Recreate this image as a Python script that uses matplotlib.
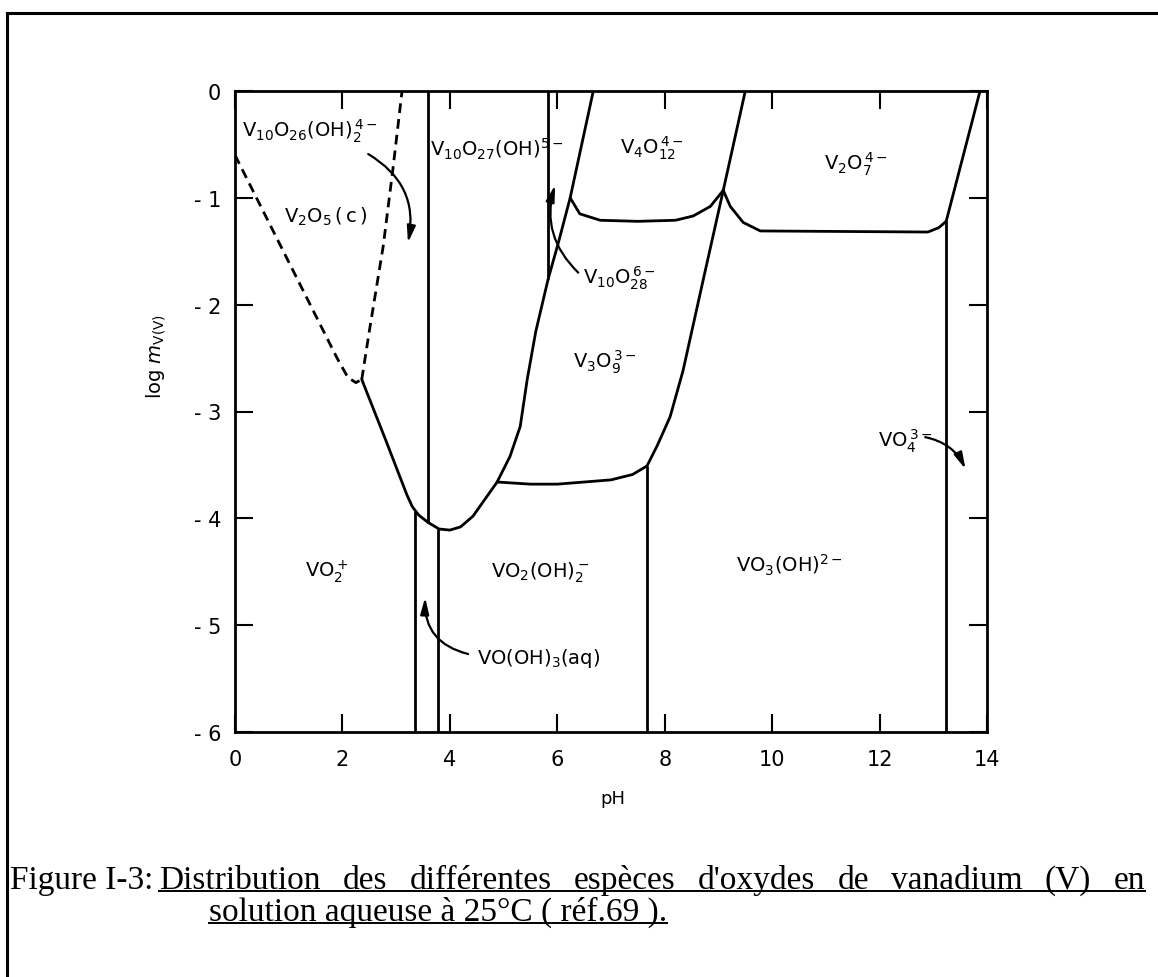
import matplotlib.pyplot as plt
from matplotlib.lines import Line2D

plt.rcParams["font.family"] = "DejaVu Sans"
plt.rcParams["mathtext.default"] = "regular"

# phase boundaries (pH, log m)
low_ph = [2.36, 2.8, 3.2, 3.3, 3.42, 3.6, 3.8, 4.0, 4.2, 4.43, 4.88, 5.12, 5.31, 5.44,
          5.6, 5.83, 6.02, 6.24, 6.67]
low_lm = [-2.70, -3.26, -3.78, -3.89, -3.97, -4.04, -4.10, -4.11, -4.08, -3.98, -3.66,
          -3.42, -3.14, -2.70, -2.25, -1.76, -1.42, -1.0, 0.0]

v3_low_ph = [4.88, 5.5, 6.0, 7.0, 7.4, 7.67]
v3_low_lm = [-3.66, -3.68, -3.68, -3.64, -3.59, -3.51]

v3_right_ph = [7.67, 7.86, 8.1, 8.34, 8.72, 9.09, 9.5]
v3_right_lm = [-3.51, -3.32, -3.05, -2.62, -1.76, -0.93, 0.0]

v4_low_ph = [6.24, 6.42, 6.8, 7.5, 8.2, 8.53, 8.85, 9.09]
v4_low_lm = [-1.0, -1.15, -1.21, -1.22, -1.21, -1.17, -1.08, -0.93]

v2_low_ph = [9.09, 9.22, 9.46, 9.78, 12.9, 13.1, 13.24]
v2_low_lm = [-0.93, -1.08, -1.23, -1.31, -1.32, -1.28, -1.22]

v2_right_ph = [13.24, 13.87]
v2_right_lm = [-1.22, 0.0]

# vertical boundaries: pH, upper end, lower end
vert_ph = [3.6, 5.83, 3.35, 3.78, 7.67, 13.24]
vert_top = [0.0, 0.0, -3.93, -4.10, -3.51, -1.22]
vert_bot = [-4.04, -1.76, -6.0, -6.0, -6.0, -6.0]

# V2O5(c) solubility (dashed)
dash_left_ph = [0.0, 1.9, 2.1, 2.25, 2.36]
dash_left_lm = [-0.6, -2.5, -2.68, -2.73, -2.70]
dash_right_ph = [2.36, 2.5, 2.76, 2.94, 3.11]
dash_right_lm = [-2.70, -2.25, -1.45, -0.73, 0.0]

# species labels: text, pH, log m, alignment
labels = [r"$V_{10}O_{26}(OH)_2^{\,4-}$", r"$V_2O_5\,(\,c\,)$",
          r"$V_{10}O_{27}(OH)^{5-}$", r"$V_4O_{12}^{\,4-}$", r"$V_2O_7^{\,4-}$",
          r"$V_{10}O_{28}^{\,6-}$", r"$V_3O_9^{\,3-}$", r"$VO_2^+$",
          r"$VO_2(OH)_2^-$", r"$VO_3(OH)^{2-}$", r"$VO(OH)_3(aq)$",
          r"$VO_4^{\,3-}$"]
label_ph = [0.13, 1.68, 3.63, 7.77, 11.56, 6.48, 6.89, 1.71, 5.68, 10.33, 4.51, 12.48]
label_lm = [-0.37, -1.17, -0.54, -0.53, -0.68, -1.74, -2.53, -4.49, -4.50, -4.43, -5.30, -3.27]
label_ha = ["left", "center", "left", "center", "center", "left", "center",
            "center", "center", "center", "left", "center"]

# pointer arrows: tail -> head, curvature
arrow_from = [(2.48, -0.59), (6.39, -1.70), (4.34, -5.27), (12.85, -3.24)]
arrow_to = [(3.22, -1.42), (5.96, -0.88), (3.54, -4.74), (13.6, -3.54)]
arrow_rad = [-0.35, -0.3, -0.4, -0.25]

xticks = list(range(0, 15, 2))
yticks = list(range(-6, 1))
ytick_labels = ["- 6", "- 5", "- 4", "- 3", "- 2", "- 1", "0"]

caption_head = "Figure I-3:"
caption_line1 = "Distribution des différentes espèces d'oxydes de vanadium (V) en"
caption_line2 = "solution aqueuse à 25°C ( réf.69 )."

W, H = 1158, 978
fig = plt.figure(figsize=(W / 100, H / 100), dpi=100)
ax = fig.add_axes([235 / W, 1 - 733 / H, (987 - 235) / W, (733 - 92) / H])

lw = 2.0
for px, py in [(low_ph, low_lm), (v3_low_ph, v3_low_lm), (v3_right_ph, v3_right_lm),
               (v4_low_ph, v4_low_lm), (v2_low_ph, v2_low_lm),
               (v2_right_ph, v2_right_lm)]:
    ax.plot(px, py, color="black", lw=lw, solid_capstyle="round")
ax.vlines(vert_ph, vert_bot, vert_top, color="black", lw=lw)
ax.plot(dash_left_ph, dash_left_lm, color="black", lw=lw, ls=(0, (3.5, 2.2)))
ax.plot(dash_right_ph, dash_right_lm, color="black", lw=lw, ls=(0, (3.5, 2.2)))

for txt, x, y, ha in zip(labels, label_ph, label_lm, label_ha):
    ax.text(x, y, txt, ha=ha, va="center", fontsize=14)

for a, b, r in zip(arrow_from, arrow_to, arrow_rad):
    ax.annotate("", xy=b, xytext=a,
                arrowprops=dict(arrowstyle="-|>,head_length=0.7,head_width=0.18",
                                connectionstyle=f"arc3,rad={r}", color="black",
                                lw=1.6, shrinkA=0, shrinkB=0, mutation_scale=14))

ax.set_xlim(0, 14)
ax.set_ylim(-6, 0)
ax.set_xticks(xticks)
ax.set_yticks(yticks)
ax.set_yticklabels(ytick_labels)
ax.tick_params(direction="in", length=13, width=1.5, top=True, right=True,
               labelsize=15)
ax.tick_params(axis="x", pad=12)
ax.tick_params(axis="y", pad=10)
for sp in ax.spines.values():
    sp.set_linewidth(2.0)

ax.set_xlabel("pH", fontsize=13, va="center")
ax.xaxis.set_label_coords(0.503, -0.103)
ax.set_ylabel(r"log $\mathit{m}_{V(V)}$", fontsize=14, va="center")
ax.yaxis.set_label_coords(-0.104, 0.587)

# page frame (cut at right and bottom)
fig.add_artist(Line2D([7 / W, 7 / W], [0, 1 - 14 / H], color="black", lw=2.2))
fig.add_artist(Line2D([7 / W, 1], [1 - 14 / H, 1 - 14 / H], color="black", lw=2.2))

# caption: first line justified between x=159 and x=1145, both lines underlined
cap_font = dict(family="Liberation Serif", fontsize=24, va="baseline")
base1, base2 = 889, 921
fig.text(10 / W, 1 - base1 / H, caption_head, **cap_font)
words = [fig.text(0, 1 - base1 / H, w, **cap_font) for w in caption_line1.split()]
t2 = fig.text(209 / W, 1 - base2 / H, caption_line2, **cap_font)
fig.canvas.draw()
r = fig.canvas.get_renderer()
widths = [w.get_window_extent(r).width for w in words]
x0, x1 = 159, 1145
gap = (x1 - x0 - sum(widths)) / (len(words) - 1)
x = x0
for w, wd in zip(words, widths):
    w.set_x(x / W)
    x += wd + gap
yl = 1 - (base1 + 3) / H
fig.add_artist(Line2D([x0 / W, x1 / W], [yl, yl], color="black", lw=1.4))
bb = t2.get_window_extent(r)
yl = 1 - (base2 + 3) / H
fig.add_artist(Line2D([bb.x0 / W, bb.x1 / W], [yl, yl], color="black", lw=1.4))

fig.savefig("out.png", dpi=100)
